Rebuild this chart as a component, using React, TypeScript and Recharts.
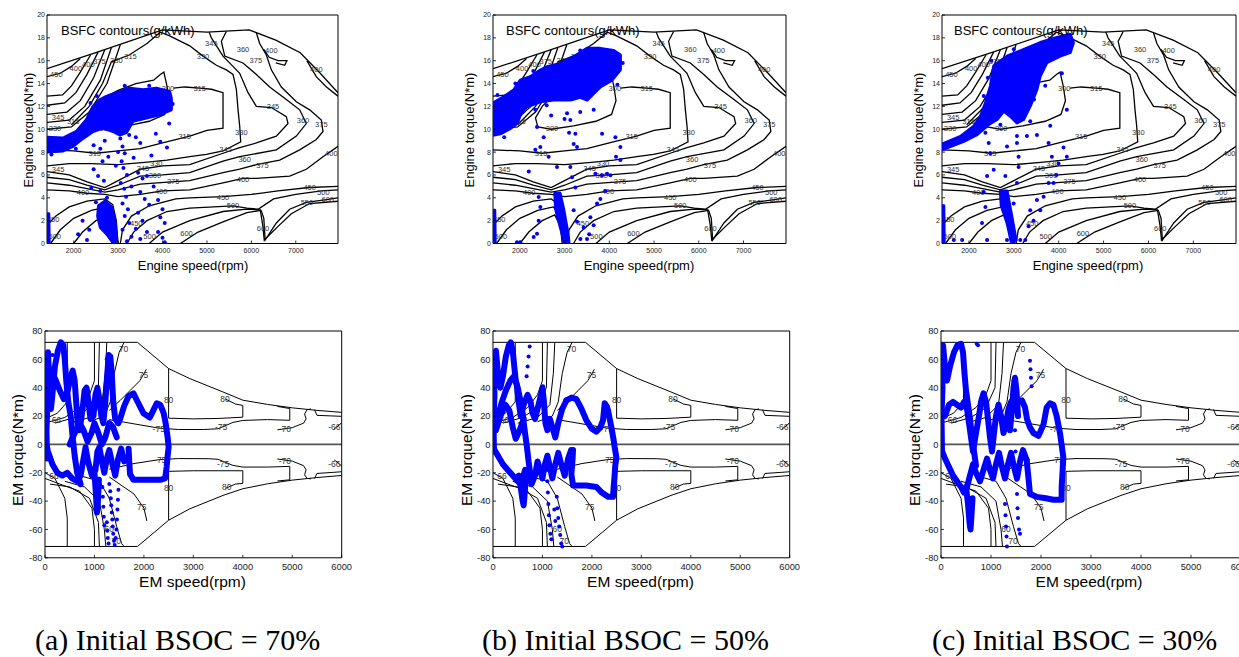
import React from 'react';
import { ScatterChart, Scatter, XAxis, YAxis, ReferenceLine } from 'recharts';

type P = [number, number];
type L = [number, number, string];

// ---------------- axis ticks & captions ----------------
const ENGINE_SPEED_TICKS = [2000, 3000, 4000, 5000, 6000, 7000];
const ENGINE_TORQUE_TICKS = [0, 2, 4, 6, 8, 10, 12, 14, 16, 18, 20];
const EM_SPEED_TICKS = [0, 1000, 2000, 3000, 4000, 5000, 6000];
const EM_TORQUE_TICKS = [-80, -60, -40, -20, 0, 20, 40, 60, 80];
const CAPTIONS = ['(a) Initial BSOC = 70%', '(b) Initial BSOC = 50%', '(c) Initial BSOC = 30%'];

// ---------------- engine BSFC map (rpm, N*m) ----------------
const ENGINE_TORQUE_LIMIT: P[] = [[1400, 15.3], [2500, 16.7], [4000, 18.7], [5000, 18.5], [5950, 18.7], [6550, 17.8], [7100, 16.7], [7550, 14.9], [7950, 13.2]];
const BSFC_450_FAN: P[] = [[1400, 14.6], [1700, 14.9], [1950, 15.5], [2150, 16.2]];
const BSFC_400_FAN: P[] = [[1400, 12.9], [1750, 13.0], [1950, 13.8], [2150, 15.0], [2380, 16.5]];
const BSFC_375_FAN: P[] = [[1400, 12.1], [1800, 12.3], [2050, 13.2], [2300, 14.8], [2550, 16.75]];
const BSFC_360_FAN: P[] = [[1400, 11.3], [1850, 11.5], [2150, 12.5], [2450, 14.5], [2700, 16.95]];
const BSFC_345_FAN: P[] = [[1400, 10.6], [1900, 10.8], [2250, 12.0], [2600, 14.3], [2850, 17.15]];
const BSFC_330_FAN: P[] = [[1400, 10.0], [1950, 10.2], [2350, 11.5], [2750, 14.0], [3050, 17.4]];
const BSFC_330: P[] = [[1950, 10.4], [2350, 12.0], [2650, 14.0], [2850, 15.9], [3250, 16.5], [3650, 17.5], [3950, 18.5], [4150, 18.2], [4612, 17.3], [4912, 16.4], [5212, 15.6], [5437, 15.2], [5587, 14.8], [5662, 13.5], [5700, 11.7], [5737, 10.3], [5760, 8.9], [5362, 8.1], [4987, 7.8], [4612, 7.6], [4100, 7.3], [3600, 7.1], [3000, 6.9], [2400, 7.0], [1900, 7.0], [1400, 6.8]];
const BSFC_315: P[] = [[1400, 8.2], [2000, 8.1], [2500, 7.9], [3000, 8.1], [3500, 8.3], [4000, 8.8], [4612, 9.4], [5000, 9.9], [5362, 10.1], [5362, 13.2], [5100, 13.5], [4837, 13.6], [4500, 13.7], [4250, 13.6]];
const BSFC_300: P[] = [[2400, 10.2], [2700, 10.0], [3200, 10.3], [3700, 10.7], [4050, 11.3], [4150, 12.5], [4100, 13.8], [4030, 15.0], [3950, 14.8], [3800, 14.3], [3400, 14.0], [3000, 13.4], [2700, 12.8], [2500, 12.0], [2350, 11.0], [2400, 10.2]];
const BSFC_345: P[] = [[1400, 6.3], [1900, 6.0], [2300, 5.4], [2700, 4.9], [3000, 5.5], [3500, 6.5], [4000, 6.8], [4612, 6.9], [5362, 7.9], [5737, 8.4], [6112, 8.8], [6562, 9.4], [6825, 10.5], [6787, 11.1], [6450, 11.9], [6112, 12.0], [5925, 13.2], [5737, 14.9], [5587, 15.5], [5362, 16.4], [5100, 18.0], [5050, 18.5]];
const BSFC_360: P[] = [[1400, 5.8], [1900, 5.6], [2300, 5.1], [2700, 4.7], [3000, 5.1], [3500, 5.9], [4000, 6.0], [4612, 6.2], [5362, 7.2], [5737, 7.6], [6562, 8.2], [7012, 9.4], [7237, 10.5], [7087, 11.7], [6787, 12.6], [6412, 13.7], [6112, 14.8], [5812, 15.8], [5400, 16.4], [5325, 17.7], [5437, 18.55]];
const BSFC_375: P[] = [[1400, 5.3], [1900, 5.1], [2300, 4.8], [2700, 4.5], [3000, 4.7], [3500, 5.2], [4200, 5.4], [4612, 5.5], [5362, 6.2], [5737, 6.5], [6112, 6.9], [6637, 7.3], [7087, 8.2], [7462, 9.1], [7612, 9.8], [7575, 10.8], [7312, 11.7], [7012, 12.4], [6675, 13.7], [6450, 15.2], [6337, 16.5], [6187, 17.5], [6112, 18.45]];
const BSFC_400: P[] = [[1400, 4.7], [1900, 4.6], [2300, 4.4], [2700, 4.3], [3000, 4.1], [3500, 4.3], [4000, 4.6], [4612, 4.7], [5362, 5.3], [5812, 5.7], [6112, 5.7], [6862, 5.9], [7237, 6.5], [7612, 7.6], [7950, 8.5]];
const BSFC_400_CORNER: P[] = [[7250, 16.0], [7460, 14.6], [7690, 13.7], [7950, 12.9]];
const BSFC_400_LOOP: P[] = [[6280, 17.0], [6400, 16.3], [6600, 16.0], [6800, 16.0], [6750, 15.6], [6550, 15.8]];
const BSFC_450_LOW: P[] = [[1400, 1.6], [1600, 2.4], [1900, 3.2], [2300, 3.7], [2700, 3.9], [2880, 3.4], [2960, 2.0], [3000, 0]];
const BSFC_500_LOW: P[] = [[1480, 0], [1700, 1.2], [2000, 2.2], [2400, 2.9], [2750, 3.2], [2890, 2.6], [2950, 1.2], [2975, 0]];
const BSFC_600_LOW: P[] = [[2000, 0], [2200, 1.0], [2500, 2.0], [2780, 2.5], [2910, 1.5], [2945, 0]];
const BSFC_450_RIGHT: P[] = [[3050, 0], [3100, 1.2], [3300, 2.4], [3700, 3.3], [4300, 3.9], [4612, 4.0], [5362, 4.1], [6000, 4.3], [6600, 4.6], [7300, 4.9], [7950, 5.0]];
const BSFC_500_RIGHT: P[] = [[3200, 0], [3350, 1.0], [3650, 2.0], [4100, 2.8], [4612, 3.1], [5587, 3.3], [5900, 3.1], [6150, 3.0], [6500, 3.9], [7000, 4.3], [7575, 4.6], [7950, 4.7]];
const BSFC_550_RIGHT: P[] = [[3700, 0], [4000, 1.0], [4612, 2.0], [5362, 2.8], [5900, 3.0], [6200, 2.95], [6260, 1.5], [6290, 0.3], [6600, 1.5], [6900, 2.6], [7312, 3.5], [7950, 3.7]];
const BSFC_600_RIGHT: P[] = [[4400, 0], [4800, 1.0], [5362, 1.9], [5900, 2.7], [6220, 2.9], [6280, 2.2], [6310, 0.3], [6562, 1.8], [6862, 3.0], [7237, 3.6], [7612, 3.8], [7950, 4.0]];

const ENGINE_CONTOURS: P[][] = [
  ENGINE_TORQUE_LIMIT, BSFC_450_FAN, BSFC_400_FAN, BSFC_375_FAN, BSFC_360_FAN, BSFC_345_FAN, BSFC_330_FAN,
  BSFC_330, BSFC_315, BSFC_300, BSFC_345, BSFC_360, BSFC_375, BSFC_400, BSFC_400_CORNER, BSFC_400_LOOP,
  BSFC_450_LOW, BSFC_500_LOW, BSFC_600_LOW, BSFC_450_RIGHT, BSFC_500_RIGHT, BSFC_550_RIGHT, BSFC_600_RIGHT,
];

const BSFC_LABELS: L[] = [
  [1611, 14.8, '450'], [2050, 15.3, '400'], [2330, 15.7, '400'], [2580, 15.9, '375'], [2960, 16.0, '330'], [3280, 16.4, '315'],
  [1650, 11.0, '345'], [1580, 10.1, '330'], [1990, 10.7, '315'], [2475, 7.9, '315'], [4500, 9.4, '315'], [3860, 7.0, '330'],
  [3560, 6.6, '345'], [3830, 6.0, '360'], [4240, 5.45, '375'], [3970, 4.6, '400'], [1650, 6.5, '345'], [2210, 4.5, '400'],
  [1540, 2.1, '450'], [1575, 0.65, '500'], [3410, 1.8, '450'], [3710, 0.65, '500'], [4540, 0.9, '600'],
  [4912, 16.4, '330'], [5100, 17.5, '345'], [5812, 16.95, '360'], [6100, 16.0, '375'], [6450, 16.9, '400'], [7462, 15.2, '400'],
  [4837, 13.6, '315'], [6487, 12.0, '345'], [7162, 10.8, '360'], [7575, 10.4, '375'], [5775, 9.7, '330'], [7800, 7.9, '400'],
  [5420, 8.2, '345'], [5850, 7.4, '360'], [6250, 6.8, '375'], [5812, 5.6, '400'], [7312, 4.9, '450'], [7620, 4.5, '500'],
  [7250, 3.6, '550'], [7720, 3.9, '600'], [5362, 4.0, '450'], [5587, 3.3, '500'], [6262, 1.3, '600'], [4124, 13.6, '300'], [2720, 10.06, '300'],
];

// ---------------- EM efficiency map (rpm, N*m) ----------------
const EM_LIMIT_MOTOR: P[] = [[0, 72], [1870, 72], [2500, 53.5], [2930, 46.4], [3600, 37], [4000, 31.2], [4500, 28.2], [5000, 25.8], [5500, 24.0], [6000, 22.6]];
const EM_LIMIT_GEN: P[] = [[0, -72], [1870, -72], [2500, -53.5], [2930, -45.4], [3600, -36], [4000, -31.3], [4500, -27.8], [5000, -25.2], [5500, -23.4], [6000, -21.9]];
const EFF_80_MOTOR: P[] = [[2500, 53.5], [2500, 18.5], [3000, 18.0], [3500, 18.3], [4000, 19.2], [4000, 27.5], [3850, 28.5], [3650, 32.0]];
const EFF_80_GEN: P[] = [[2500, -53.5], [2500, -19.0], [3000, -18.6], [3500, -18.6], [4000, -18.6], [4000, -27.5], [3850, -28.0], [3650, -31.0]];
const EFF_75_MOTOR: P[] = [[1300, 17.5], [1800, 14.5], [2300, 11.5], [2700, 10.5], [3200, 10.5], [3500, 11.0], [3800, 15.5], [4000, 16.9], [4500, 17.5], [4950, 17.0], [4950, 25.3], [4700, 26.8]];
const EFF_75_GEN: P[] = [[1300, -17.5], [1800, -13.5], [2300, -10.8], [2700, -10.0], [3300, -10.1], [3500, -10.5], [3800, -14.8], [4000, -16.0], [4500, -16.0], [4950, -15.5], [4950, -25.0], [4700, -25.8]];
const EFF_75_MOTOR_SLOPE: P[] = [[1300, 24], [1520, 31], [1720, 38], [1920, 45], [2050, 53]];
const EFF_75_GEN_SLOPE: P[] = [[1300, -23], [1800, -35], [2000, -45], [2060, -54]];
const EFF_70_MOTOR: P[] = [[4700, 10.3], [5000, 11.8], [5230, 15.0], [5280, 18.0], [5250, 21.5], [5300, 24.5], [5380, 25.0]];
const EFF_70_GEN: P[] = [[4700, -10.3], [5000, -11.8], [5230, -15.0], [5280, -18.0], [5250, -21.5], [5300, -24.0], [5380, -24.3]];
const EFF_66_MOTOR: P[] = [[5450, 24.5], [5500, 20.5], [6000, 19.8]];
const EFF_66_GEN: P[] = [[5450, -24.0], [5500, -20.5], [6000, -19.3]];
const EFF_66_MOTOR_TAIL: P[] = [[5850, 11.0], [5950, 13.5], [6000, 15.5]];
const EFF_66_GEN_TAIL: P[] = [[5850, -11.0], [5950, -13.5], [6000, -15.5]];
const EFF_LOW_MOTOR_A: P[] = [[0, 18], [250, 22], [450, 30], [450, 72]];
const EFF_LOW_MOTOR_B: P[] = [[0, 15], [400, 19], [700, 26], [900, 35], [1000, 45], [1000, 72]];
const EFF_LOW_MOTOR_C: P[] = [[200, 15], [600, 19], [900, 26], [1080, 40], [1100, 72]];
const EFF_LOW_MOTOR_D: P[] = [[500, 15], [900, 19], [1150, 28], [1220, 50], [1250, 72]];
const EFF_LOW_MOTOR_E: P[] = [[900, 16], [1200, 20], [1320, 30], [1400, 50], [1500, 65], [1600, 72]];
const EFF_LOW_GEN_A: P[] = [[0, -20], [200, -24], [400, -38], [450, -52], [450, -72]];
const EFF_LOW_GEN_B: P[] = [[0, -24], [300, -28], [700, -33], [950, -45], [1000, -60], [1000, -72]];
const EFF_LOW_GEN_C: P[] = [[100, -28], [500, -30], [900, -38], [1080, -55], [1100, -72]];
const EFF_LOW_GEN_D: P[] = [[400, -26], [800, -30], [1100, -40], [1200, -60], [1230, -72]];
const EFF_LOW_GEN_E: P[] = [[700, -22], [1100, -26], [1300, -38], [1450, -58], [1550, -70], [1600, -72]];

const EM_CONTOURS: P[][] = [
  EM_LIMIT_MOTOR, EM_LIMIT_GEN, EFF_80_MOTOR, EFF_80_GEN, EFF_75_MOTOR, EFF_75_GEN, EFF_75_MOTOR_SLOPE, EFF_75_GEN_SLOPE,
  EFF_70_MOTOR, EFF_70_GEN, EFF_66_MOTOR, EFF_66_GEN, EFF_66_MOTOR_TAIL, EFF_66_GEN_TAIL,
  EFF_LOW_MOTOR_A, EFF_LOW_MOTOR_B, EFF_LOW_MOTOR_C, EFF_LOW_MOTOR_D, EFF_LOW_MOTOR_E,
  EFF_LOW_GEN_A, EFF_LOW_GEN_B, EFF_LOW_GEN_C, EFF_LOW_GEN_D, EFF_LOW_GEN_E,
];

const EFF_LABELS: L[] = [
  [1590, 67, '70'], [1990, 48.7, '75'], [2500, 31, '80'], [3640, 32, '80'], [3560, 12.2, '-75'], [4850, 11.1, '-70'], [5850, 12.2, '-66'],
  [2300, 11.1, '-75'], [2330, -10.8, '-75'], [3600, -13.6, '-75'], [4850, -11.5, '-70'], [5850, -13.5, '-66'], [3674, -30.1, '80'],
  [2500, -31, '80'], [1955, -44.2, '75'], [1300, -60, '60'], [1440, -68, '70'], [180, -22, '66'], [230, 17, '66'],
];

// ---------------- engine operating points ----------------
const ENG70_CLOUD: P[] = [[1400, 9.3], [1761, 9.23], [2061, 9.81], [2286, 10.83], [2436, 11.99], [2586, 12.58], [2736, 12.87], [3036, 13.3], [3261, 13.6], [3561, 13.45], [3861, 13.6], [4161, 13.3], [4199, 12.7], [4199, 11.7], [3936, 11.27], [3636, 10.98], [3336, 10.7], [3186, 9.7], [3036, 9.5], [2886, 9.8], [2661, 10.1], [2436, 9.8], [2211, 9.2], [1986, 8.5], [1761, 8.1], [1400, 8.0]];
const ENG70_LOW_CLUSTER: P[] = [[2560, 3.3], [2700, 3.7], [2850, 3.2], [2930, 2.0], [2960, 0.3], [2880, 0.1], [2750, 0.8], [2600, 1.4], [2540, 2.4]];
const ENG70_IDLE_EDGE: P[] = [[1400, 0], [1400, 2.6], [1440, 2.6], [1450, 0]];
const ENG70_POINTS: P[] = [
  [2450, 8.6], [2600, 8.3], [2700, 9.0], [2780, 7.6], [2650, 7.2], [2450, 6.5], [2550, 5.9], [2680, 5.5], [2400, 4.9], [2600, 4.6], [2750, 4.0], [2500, 3.6],
  [3050, 9.2], [3100, 8.5], [3150, 7.9], [3080, 7.2], [3120, 6.6], [3200, 6.0], [3060, 5.3], [3140, 4.8], [3180, 4.1], [3100, 3.5], [3220, 3.0], [3150, 2.4], [3250, 1.8], [3100, 1.2], [3300, 0.6], [3200, 0.2],
  [3400, 9.3], [3500, 8.8], [3350, 7.5], [3450, 6.2], [3550, 5.7], [3650, 5.9], [3500, 4.5], [3600, 3.9], [3700, 3.4], [3450, 2.7], [3550, 2.0], [3400, 1.3], [3650, 1.0], [3500, 0.4],
  [3850, 9.6], [3950, 8.9], [4100, 8.4], [4150, 10.5], [3800, 5.0], [3900, 3.8], [4000, 3.0], [3950, 2.3], [4050, 1.8], [3900, 1.0], [4000, 0.5], [4050, 0.1],
  [2200, 2.0], [2350, 1.2], [2300, 0.3], [2100, 0.8], [3000, 8.0], [2950, 6.8], [3300, 5.0], [3750, 7.7],
  [2380, 12.3], [2520, 12.9], [3150, 13.8], [3700, 13.8], [4230, 12.2], [1500, 7.8], [2050, 8.3], [3250, 9.5],
];
const ENG50_CLOUD: P[] = [[1400, 12.3], [1638, 12.84], [1862, 13.43], [2011, 14.3], [2234, 14.6], [2458, 15.18], [2607, 15.47], [2906, 15.76], [3204, 16.35], [3502, 17.08], [3800, 17.08], [4099, 16.9], [4248, 16.5], [4248, 15.2], [4061, 14.3], [3800, 13.7], [3502, 12.55], [3353, 12.8], [3129, 12.55], [2756, 12.55], [2458, 12.4], [2160, 11.96], [2011, 11.23], [1936, 10.5], [1787, 10.06], [1563, 9.6], [1400, 9.48]];
const ENG50_LOW_CLUSTER: P[] = [[2780, 4.4], [2900, 4.4], [2980, 3.0], [3080, 0.8], [3100, 0], [3000, 0], [2900, 1.5], [2800, 3.0]];
const ENG50_IDLE_EDGE: P[] = [[1400, 0], [1400, 2.9], [1440, 2.9], [1450, 0]];
const ENG50_POINTS: P[] = [
  [2346, 11.7], [2384, 10.2], [2533, 9.3], [2458, 8.45], [2346, 8.2], [2645, 7.6], [2831, 6.7], [3129, 6.7], [3166, 5.8], [3241, 4.9],
  [3055, 11.4], [3129, 10.8], [3241, 9.6], [3204, 8.7], [3279, 8.45], [3651, 11.7], [3838, 9.6], [4136, 9.3], [4248, 8.45], [4248, 7.3],
  [4024, 5.97], [3838, 5.97], [3689, 6.1], [3912, 4.6], [3800, 3.9], [3726, 3.5], [3577, 2.3], [3427, 1.4], [3502, 0.4], [3353, 0.4],
  [2421, 4.07], [2458, 3.2], [2421, 2.0], [2384, 0.85], [2309, 0.56], [1936, 0.1], [2011, 0.1], [3279, 1.9], [3204, 2.9], [2200, 6.3],
  [3000, 10.9], [3350, 11.5], [3950, 6.1], [4150, 7.6], [2700, 11.2], [3100, 9.7], [3550, 0.8], [3650, 1.6],
  [1900, 14.0], [2300, 15.1], [3350, 16.9], [4180, 13.9], [4300, 15.8], [2600, 12.1], [1650, 9.3], [1500, 13.0],
];
const ENG30_CLOUD: P[] = [[1400, 8.7], [1811, 9.38], [2107, 10.26], [2255, 11.14], [2367, 12.3], [2478, 13.78], [2552, 15.54], [2848, 16.4], [3144, 16.86], [3589, 17.59], [3959, 18.03], [4255, 18.32], [4329, 17.59], [4255, 16.7], [4033, 16.4], [3737, 15.83], [3589, 14.66], [3515, 13.48], [3366, 12.02], [3218, 10.85], [3070, 10.55], [2922, 11.14], [2774, 11.58], [2626, 10.85], [2441, 10.41], [2181, 9.53], [1885, 8.94], [1400, 8.2]];
const ENG30_LOW_CLUSTER: P[] = [[2700, 4.6], [2850, 4.6], [2950, 2.5], [3050, 0.3], [2950, 0], [2850, 1.8], [2720, 3.3]];
const ENG30_IDLE_EDGE: P[] = [[1400, 0], [1400, 3.3], [1440, 3.3], [1450, 0]];
const ENG30_POINTS: P[] = [
  [2330, 12.9], [2367, 11.7], [2367, 9.7], [2441, 8.8], [2478, 7.9], [2552, 6.45], [2404, 5.9], [2330, 4.5], [2367, 3.2], [2292, 1.8], [2404, 0.3],
  [2848, 8.5], [2811, 5.9], [3070, 9.4], [3070, 8.8], [3107, 7.6], [3107, 6.7], [3292, 9.4], [3366, 10.7], [3515, 9.5], [3811, 10.3], [3774, 8.8],
  [3848, 7.6], [4107, 8.4], [4181, 7.6], [3996, 7.0], [3885, 5.3], [3774, 5.3], [3663, 4.1], [3589, 2.9], [3440, 2.0], [3329, 1.5], [3255, 0.3],
  [3144, 0.3], [4070, 14.9], [4181, 11.7], [3515, 3.8], [3366, 2.9], [2996, 3.5], [3070, 5.3], [1848, 0.3], [1663, 0.3], [2848, 0.3], [3950, 6.0],
  [2420, 14.5], [2500, 16.0], [3000, 17.0], [3700, 13.8], [3450, 12.6], [2700, 10.4], [3150, 11.8],
];

// ---------------- EM operating trajectories ----------------
const EM70_PATH_A: P[] = [[40, -10], [30, 10], [50, 30], [40, 50], [60, 65], [90, 45], [120, 25], [150, 35], [200, 55], [260, 66], [320, 72], [370, 70], [400, 60], [430, 45], [470, 30], [520, 20], [560, 5], [600, -8], [650, -20], [720, -28]];
const EM70_PATH_B: P[] = [[80, 40], [150, 50], [220, 45], [300, 38], [380, 32], [460, 38], [520, 48], [560, 52], [600, 45], [630, 30], [660, 15], [700, 10], [760, 25], [800, 38], [840, 40], [880, 30], [920, 18], [980, 20], [1020, 35], [1060, 40], [1100, 32], [1140, 20], [1180, 15], [1220, 30], [1260, 50], [1290, 63], [1320, 62], [1350, 50], [1380, 30], [1420, 18], [1480, 15]];
const EM70_PATH_C: P[] = [[1480, 15], [1520, 18], [1600, 27], [1690, 34], [1790, 36], [1860, 31], [1990, 22], [2120, 19], [2190, 24], [2260, 29], [2330, 28], [2400, 22], [2440, 15], [2480, 5], [2500, -2], [2480, -8], [2460, -16], [2430, -24], [2330, -25], [2060, -25], [1790, -25], [1720, -21], [1700, -10], [1690, -3]];
const EM70_PATH_D: P[] = [[0, 5], [60, -5], [150, -14], [250, -20], [350, -22], [450, -20], [550, -24], [650, -26], [720, -22], [780, -10], [820, -2], [870, -12], [950, -22], [1020, -18], [1060, -5], [1100, -2], [1150, -12], [1200, -20], [1250, -10], [1300, -4], [1350, -12], [1420, -22], [1480, -10], [1540, -3], [1600, -12], [1690, -8]];
const EM70_PATH_E: P[] = [[1000, -20], [1030, -35], [1050, -48], [1070, -40], [1090, -25]];
const EM70_PATH_F: P[] = [[500, 0], [600, 8], [700, 15], [780, 10], [860, 2], [940, 8], [1000, 15], [1080, 8], [1150, 0], [1220, 5], [1300, 15], [1380, 12], [1450, 5]];
const EM70_POINTS: P[] = [[1300, -28], [1320, -33], [1330, -38], [1340, -43], [1350, -48], [1360, -53], [1370, -58], [1380, -63], [1395, -68], [1410, -71], [1430, -66], [1445, -60], [1455, -53], [1465, -46], [1475, -39], [1485, -32], [1160, -30], [1170, -37], [1180, -44], [1190, -51], [1200, -57], [1250, -55], [1260, -61], [1270, -66], [1285, -70], [1330, 40], [1250, 60], [150, 63]];

const EM50_PATH_A: P[] = [[20, -5], [10, 15], [30, 35], [20, 55], [60, 66], [100, 50], [150, 40], [200, 48], [260, 62], [320, 70], [360, 72], [400, 66], [430, 55], [460, 45], [500, 40], [560, 30], [600, 22], [640, 10], [680, 0], [720, -12], [760, -22]];
const EM50_PATH_B: P[] = [[100, 20], [180, 30], [260, 38], [350, 45], [420, 48], [480, 42], [520, 30], [560, 20], [620, 28], [700, 35], [760, 30], [800, 22], [850, 18], [900, 25], [950, 32], [1000, 40], [1030, 30], [1060, 15], [1100, 10], [1150, 18], [1200, 12], [1260, 5], [1320, 15], [1400, 25], [1484, 31]];
const EM50_PATH_C: P[] = [[1484, 31], [1590, 33], [1686, 32], [1790, 25], [1888, 17], [2000, 11], [2090, 9], [2170, 12], [2225, 17], [2259, 29], [2300, 27], [2326, 24], [2394, 12], [2440, 3], [2461, -2], [2495, -9], [2470, -16], [2461, -21], [2440, -30], [2427, -37], [2326, -37], [2200, -34], [2090, -30], [1888, -29], [1618, -29], [1585, -21], [1610, -10], [1618, -4]];
const EM50_PATH_D: P[] = [[0, -2], [100, -8], [200, -14], [300, -18], [400, -22], [500, -26], [560, -28], [600, -24], [650, -18], [700, -22], [780, -28], [850, -22], [900, -12], [950, -18], [1000, -24], [1050, -14], [1100, -8], [1150, -16], [1200, -24], [1260, -14], [1320, -6], [1380, -14], [1450, -22], [1520, -10], [1580, -4]];
const EM50_PATH_E: P[] = [[520, -22], [560, -30], [600, -40], [620, -43], [640, -35], [660, -25]];
const EM50_PATH_F: P[] = [[60, 10], [150, 20], [250, 28], [330, 24], [400, 12], [460, 4], [540, 10], [620, 18]];
const EM50_POINTS: P[] = [[1079, -9], [1090, -18], [1100, -26], [1110, -34], [1120, -42], [1130, -50], [1140, -57], [1160, -63], [1180, -67], [1290, -37], [1300, -45], [1320, -52], [1340, -58], [1360, -64], [1380, -70], [1400, -72], [680, 48], [700, 55], [742, 69], [720, 62], [1012, 41], [1000, 36], [1240, -46], [1260, -54]];

const EM30_PATH_A: P[] = [[20, -5], [10, 20], [30, 40], [15, 60], [40, 70], [80, 55], [120, 45], [180, 55], [260, 65], [330, 70], [400, 71], [440, 65], [470, 50], [500, 38], [540, 28], [580, 18], [620, 5], [660, -5], [700, -15]];
const EM30_PATH_B: P[] = [[80, 20], [160, 28], [240, 30], [320, 28], [400, 26], [460, 30], [520, 25], [560, 15], [600, 5], [640, -5], [700, 8], [760, 20], [800, 30], [850, 36], [900, 30], [940, 18], [980, 5], [1020, -5], [1060, 8], [1100, 20], [1150, 28], [1200, 20], [1250, 8], [1300, 15], [1350, 25], [1400, 30], [1450, 24]];
const EM30_PATH_C: P[] = [[1450, 24], [1500, 28], [1560, 30], [1620, 31], [1680, 26], [1720, 18], [1780, 12], [1850, 8], [1950, 6], [2050, 14], [2113, 26], [2180, 29], [2247, 28], [2313, 20], [2380, 8], [2447, -9], [2430, -20], [2413, -30], [2413, -39], [2330, -39], [2247, -39], [2100, -38], [1913, -37], [1780, -35], [1747, -23], [1713, -11]];
const EM30_PATH_D: P[] = [[0, -3], [80, -10], [160, -16], [240, -22], [320, -26], [400, -30], [460, -34], [520, -30], [580, -22], [640, -14], [700, -20], [780, -26], [850, -18], [920, -10], [980, -18], [1040, -24], [1100, -14], [1160, -6], [1220, -16], [1280, -24], [1340, -14], [1400, -6], [1460, -16], [1520, -24], [1580, -12], [1640, -4], [1713, -11]];
const EM30_PATH_E: P[] = [[500, -30], [540, -42], [570, -55], [590, -60], [610, -50], [630, -38]];
const EM30_PATH_F: P[] = [[1380, 10], [1420, 25], [1450, 40], [1480, 47], [1510, 38], [1540, 20]];
const EM30_POINTS: P[] = [[1450, 45], [1460, 35], [1470, 25], [1480, 10], [1490, -5], [1500, -15], [1510, -25], [1520, -35], [1530, -45], [1540, -52], [1560, -60], [1580, -63], [1280, -42], [1290, -50], [1300, -58], [1310, -65], [1320, -72], [1780, 59], [1790, 53], [1800, 47], [1813, 41], [713, 71], [740, 70], [600, -60], [560, -58]];

// ---------------- rendering ----------------
const BLUE = '#0000ff';
const SANS = '"Liberation Sans", Arial, Helvetica, sans-serif';
const SERIF = '"Liberation Serif", "Times New Roman", serif';
const toPts = (a: P[]) => a.map(([x, y]) => ({ x, y }));
const toLbl = (a: L[]) => a.map(([x, y, t]) => ({ x, y, t }));
const noShape = () => <g />;
const dotShape = (p: any) => <circle cx={p.cx} cy={p.cy} r={2} fill={BLUE} />;
const labelShape = (fs: number) => (p: any) => (
  <text x={p.cx} y={p.cy} dy="0.35em" textAnchor="middle" fontSize={fs} fontFamily={SANS} fill="#333">{p.payload.t}</text>
);
const cloudLine = (p: any) => {
  const q = p.points || [];
  if (!q.length) return <g />;
  const d = q.map((o: any, i: number) => `${i ? 'L' : 'M'}${o.x},${o.y}`).join('') + 'Z';
  return <path d={d} fill={BLUE} stroke={BLUE} strokeWidth={3} strokeLinejoin="round" />;
};

const xTick = (fs: number, dy: number) => (p: any) => (
  <g>
    <line x1={p.x} x2={p.x} y1={p.y} y2={p.y - 3} stroke="#000" strokeWidth={0.8} />
    <text x={p.x} y={p.y + dy} textAnchor="middle" fontSize={fs} fontFamily={SANS} fill="#222">{p.payload.value}</text>
  </g>
);
const yTick = (fs: number, dx: number) => (p: any) => (
  <g>
    <line x1={p.x} x2={p.x + 3} y1={p.y} y2={p.y} stroke="#000" strokeWidth={0.8} />
    <text x={p.x - dx} y={p.y} dy="0.35em" textAnchor="end" fontSize={fs} fontFamily={SANS} fill="#222">{p.payload.value}</text>
  </g>
);

type PanelProps = {
  x: number; y: number; w: number; h: number;
  xDomain: [number, number]; xTicks: number[];
  yDomain: [number, number]; yTicks: number[];
  fs: number; xDy: number; yDx: number;
  contours: P[][]; cw: number; labels: L[]; lfs: number;
  clouds?: P[][]; dots?: P[]; paths?: P[][]; zero?: boolean;
};

function Panel(props: PanelProps) {
  const { x, y, w, h, xDomain, xTicks, yDomain, yTicks, fs, xDy, yDx, contours, cw, labels, lfs, clouds = [], dots = [], paths = [], zero } = props;
  const ML = 40, MR = 16, MT = 6, MB = 18;
  return (
    <div style={{ position: 'absolute', left: x - ML, top: y - MT }}>
      <ScatterChart width={w + ML + MR} height={h + MT + MB} margin={{ top: MT - 1, right: MR - 1, bottom: 0, left: 0 }}>
        <XAxis type="number" dataKey="x" domain={xDomain} ticks={xTicks} interval={0} allowDataOverflow height={MB} tickSize={0} tickMargin={0} tickLine={false} tick={xTick(fs, xDy)} axisLine={{ stroke: '#000' }} />
        <YAxis type="number" dataKey="y" domain={yDomain} ticks={yTicks} interval={0} allowDataOverflow width={ML} tickSize={0} tickMargin={0} tickLine={false} tick={yTick(fs, yDx)} axisLine={{ stroke: '#000' }} />
        <XAxis xAxisId="top" orientation="top" type="number" dataKey="x" domain={xDomain} ticks={xTicks} interval={0} allowDataOverflow height={1} tick={false} tickSize={-3} tickLine={{ stroke: '#000' }} axisLine={{ stroke: '#000' }} />
        <YAxis yAxisId="right" orientation="right" type="number" dataKey="y" domain={yDomain} ticks={yTicks} interval={0} allowDataOverflow width={1} tick={false} tickSize={-3} tickLine={{ stroke: '#000' }} axisLine={{ stroke: '#000' }} />
        {contours.map((c, i) => (
          <Scatter key={'c' + i} data={toPts(c)} shape={noShape} line={{ stroke: '#000', strokeWidth: cw }} isAnimationActive={false} />
        ))}
        <Scatter data={toLbl(labels)} shape={labelShape(lfs)} isAnimationActive={false} />
        {clouds.map((c, i) => (
          <Scatter key={'k' + i} data={toPts(c)} shape={noShape} line={cloudLine} isAnimationActive={false} />
        ))}
        {paths.map((c, i) => (
          <Scatter key={'p' + i} data={toPts(c)} shape={noShape} line={{ stroke: BLUE, strokeWidth: 6, strokeLinejoin: 'round', strokeLinecap: 'round' }} isAnimationActive={false} />
        ))}
        {dots.length > 0 && <Scatter data={toPts(dots)} shape={dotShape} isAnimationActive={false} />}
        {zero && <ReferenceLine y={0} stroke="#555" strokeWidth={1.6} />}
      </ScatterChart>
    </div>
  );
}

const T = (props: { x: number; y: number; size: number; rotate?: boolean; family?: string; children: any; anchor?: 'start' | 'middle'; lh?: number }) => {
  const { x, y, size, rotate, family = SANS, children, anchor = 'middle', lh = 1 } = props;
  const tr = anchor === 'middle' ? 'translate(-50%,-50%)' : 'translate(0,-50%)';
  return (
    <div style={{ position: 'absolute', left: x, top: y, transform: tr + (rotate ? ' rotate(-90deg)' : ''), fontSize: size, fontFamily: family, whiteSpace: 'nowrap', lineHeight: lh, color: '#000' }}>
      {children}
    </div>
  );
};

const TOP_X = [47.3, 492.7, 941.5];
const TOP_W = [291, 293, 294];
const BOT_X = [45, 493.3, 941];
const BOT_W = [296.7, 296.7, 300];
const ENG_CLOUDS = [
  [ENG70_CLOUD, ENG70_LOW_CLUSTER, ENG70_IDLE_EDGE],
  [ENG50_CLOUD, ENG50_LOW_CLUSTER, ENG50_IDLE_EDGE],
  [ENG30_CLOUD, ENG30_LOW_CLUSTER, ENG30_IDLE_EDGE],
];
const ENG_POINTS = [ENG70_POINTS, ENG50_POINTS, ENG30_POINTS];
const EM_PATHS = [
  [EM70_PATH_A, EM70_PATH_B, EM70_PATH_C, EM70_PATH_D, EM70_PATH_E, EM70_PATH_F],
  [EM50_PATH_A, EM50_PATH_B, EM50_PATH_C, EM50_PATH_D, EM50_PATH_E, EM50_PATH_F],
  [EM30_PATH_A, EM30_PATH_B, EM30_PATH_C, EM30_PATH_D, EM30_PATH_E, EM30_PATH_F],
];
const EM_POINTS = [EM70_POINTS, EM50_POINTS, EM30_POINTS];

export default function App() {
  return (
    <div style={{ position: 'absolute', left: 0, top: 0, width: 1239, height: 657, overflow: 'hidden', background: '#fff' }}>
      {[0, 1, 2].map((i) => (
        <React.Fragment key={i}>
          <Panel x={TOP_X[i]} y={15} w={TOP_W[i]} h={228.5} xDomain={[1400, 7950]} xTicks={ENGINE_SPEED_TICKS} yDomain={[0, 20]} yTicks={ENGINE_TORQUE_TICKS}
            fs={7} xDy={9.7} yDx={2} contours={ENGINE_CONTOURS} cw={1.3} labels={BSFC_LABELS} lfs={7.5} clouds={ENG_CLOUDS[i]} dots={ENG_POINTS[i]} />
          <Panel x={BOT_X[i]} y={330.7} w={BOT_W[i]} h={226.8} xDomain={[0, 6000]} xTicks={EM_SPEED_TICKS} yDomain={[-80, 80]} yTicks={EM_TORQUE_TICKS}
            fs={9.3} xDy={12.7} yDx={2.5} contours={EM_CONTOURS} cw={1} labels={EFF_LABELS} lfs={8.5} paths={EM_PATHS[i]} dots={EM_POINTS[i]} zero />
        </React.Fragment>
      ))}
      {[193, 639, 1088].map((cx, i) => <T key={'tx' + i} x={cx} y={265} size={13}>Engine speed(rpm)</T>)}
      {[28, 469, 918].map((cx, i) => <T key={'ty' + i} x={cx} y={129.5} size={13} rotate>Engine torque(N*m)</T>)}
      {[61, 506, 954].map((cx, i) => <T key={'tb' + i} x={cx} y={29.5} size={13} anchor="start">BSFC contours(g/kWh)</T>)}
      {[192.5, 640.5, 1089].map((cx, i) => <T key={'bx' + i} x={cx} y={581.5} size={15.5}>EM speed(rpm)</T>)}
      {[18.3, 466.7, 915].map((cx, i) => <T key={'by' + i} x={cx} y={450} size={15.5} rotate>EM torque(N*m)</T>)}
      {[35, 482, 932].map((lx, i) => <T key={'cap' + i} x={lx} y={640} size={30} family={SERIF} anchor="start" lh={1.15}>{CAPTIONS[i]}</T>)}
    </div>
  );
}
